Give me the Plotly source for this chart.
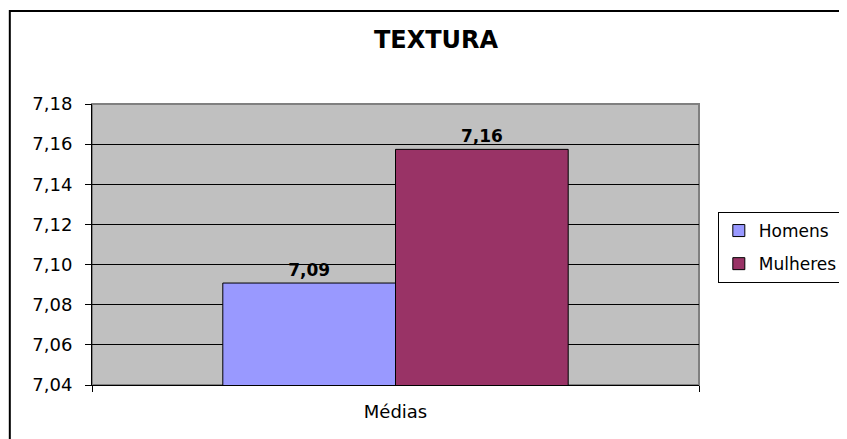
import plotly.graph_objects as go

categories = ["Médias"]
series_names = ["Homens", "Mulheres"]
homens = [7.0908]
mulheres = [7.1574]
colors = ["#9999FF", "#993366"]
y_ticks = [7.04, 7.06, 7.08, 7.10, 7.12, 7.14, 7.16, 7.18]

FONT = "DejaVu Sans, Arial, Liberation Sans"
OFF = 8  # page body margin offset
W, H = 847, 439
L, T = 92 - OFF, 104 - OFF
R = W - (705 - OFF)
B = H - (385 - OFF)
pw, ph = W - L - R, H - T - B


def px_x(p):
    return (p - OFF - L) / pw


def px_y(p):
    return 1 - (p - OFF - T) / ph


fig = go.Figure()
for name, vals, col in zip(series_names, [homens, mulheres], colors):
    fig.add_trace(go.Bar(
        x=categories, y=vals, name=name, legendgroup=name,
        marker=dict(color=col, line=dict(color="black", width=1)),
        texttemplate="%{y:.2f}", textposition="outside",
        textfont=dict(family=FONT, size=17, color="black", weight="bold"),
        cliponaxis=False,
    ))

fig.update_layout(
    width=W, height=H,
    margin=dict(l=L, r=R, t=T, b=B),
    paper_bgcolor="white",
    plot_bgcolor="#C0C0C0",
    separators=",.",
    barmode="group",
    bargap=0.431,
    bargroupgap=0,
    font=dict(family=FONT, size=18, color="black"),
    title=dict(text="<b>TEXTURA</b>", x=(436 - OFF) / W, xanchor="center",
               y=1 - (40 - OFF) / H, yanchor="middle",
               font=dict(family=FONT, size=24, color="black")),
    showlegend=True,
    legend=dict(x=px_x(724), y=px_y(212), xanchor="left", yanchor="top",
                bordercolor="black", borderwidth=1, bgcolor="white",
                font=dict(family=FONT, size=17), itemwidth=30,
                traceorder="grouped", tracegroupgap=8),
    xaxis=dict(showline=True, linecolor="black", linewidth=1,
               ticks="outside", ticklen=6, tickcolor="black", tickson="boundaries",
               tickfont=dict(size=18), showgrid=False, ticklabelstandoff=10),
    yaxis=dict(range=[7.04, 7.18], tickvals=y_ticks, tickformat=".2f",
               showline=True, linecolor="black", linewidth=1,
               ticks="outside", ticklen=6, tickcolor="black",
               showgrid=True, gridcolor="black", gridwidth=1,
               tickfont=dict(size=18), zeroline=False, ticklabelstandoff=9),
    shapes=[
        dict(type="rect", xref="paper", yref="paper", x0=0, x1=1, y0=0, y1=1,
             line=dict(color="#808080", width=2), layer="below"),
        dict(type="rect", xref="paper", yref="paper",
             x0=px_x(9), x1=px_x(860), y0=px_y(450), y1=px_y(11),
             line=dict(color="black", width=2)),
    ],
)

fig.write_html("out.html")
